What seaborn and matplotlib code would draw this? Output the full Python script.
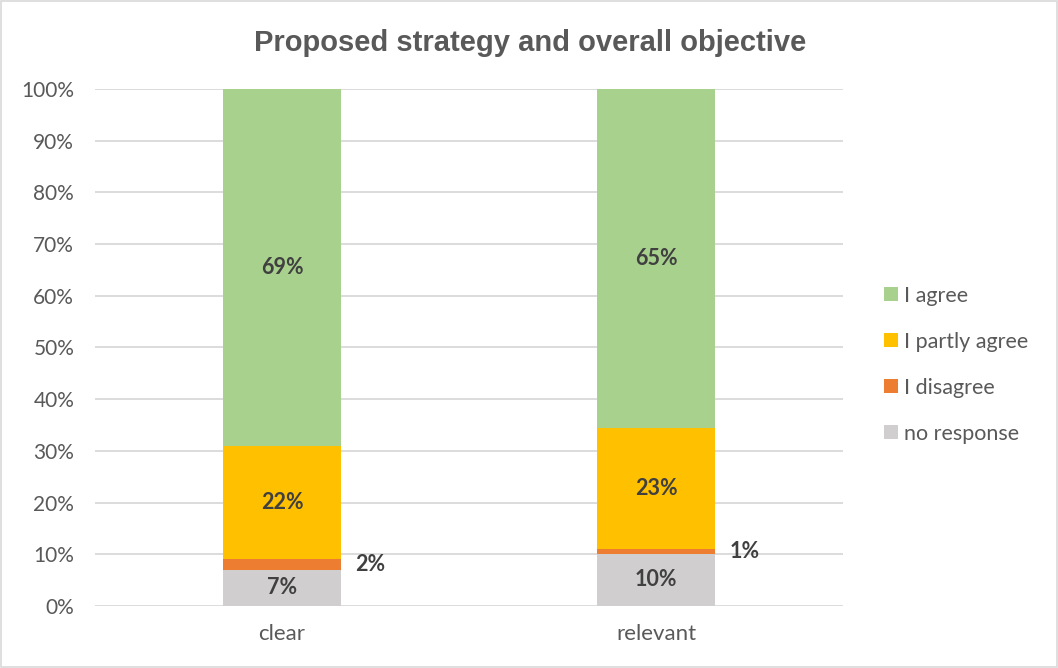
import matplotlib
matplotlib.use("Agg")
import matplotlib.pyplot as plt
from matplotlib.patches import Patch, Rectangle
from matplotlib.ticker import PercentFormatter
import numpy as np
import pandas as pd
import seaborn as sns

# Survey answers (percent of respondents), bottom segment first
categories = ["clear", "relevant"]
no_response = [7, 10]
disagree = [2, 1]
partly_agree = [22, 23]
agree = [69, 65]

series_names = ["no response", "I disagree", "I partly agree", "I agree"]
series_colors = ["#D0CECE", "#ED7D31", "#FFC000", "#A9D18E"]

sns.set_theme(style="white")
plt.rcParams["font.family"] = ["Lato", "DejaVu Sans"]

values = np.array([no_response, disagree, partly_agree, agree], dtype=float)
shares = values / values.sum(axis=0) * 100  # 100% stacked
tops = np.cumsum(shares, axis=0)
bottoms = tops - shares

fig = plt.figure(figsize=(10.58, 6.68), dpi=100)
ax = fig.add_axes([0.0898, 0.0928, 0.7070, 0.7740])

# Draw cumulative heights from the tallest down so each series sits on the one below
for i in range(len(series_names) - 1, -1, -1):
    df = pd.DataFrame({"category": categories, "top": tops[i]})
    sns.barplot(data=df, x="category", y="top", color=series_colors[i],
                width=0.313, saturation=1, ax=ax, zorder=3, linewidth=0)

# Value labels
label_color = "#404040"
for i, name in enumerate(series_names):
    for j, cat in enumerate(categories):
        mid = bottoms[i, j] + shares[i, j] / 2
        text = f"{int(values[i, j])}%"
        if name == "I disagree":
            ax.text(j + 0.196, mid, text, ha="left", va="center",
                    fontsize=15.5, fontweight="bold", color=label_color, zorder=5)
        else:
            ax.text(j, mid, text, ha="center", va="center",
                    fontsize=15.5, fontweight="bold", color=label_color, zorder=5)

ax.set_xlim(-0.5, 1.5)
ax.set_ylim(0, 100)
ax.set_yticks(np.arange(0, 101, 10))
ax.yaxis.set_major_formatter(PercentFormatter(decimals=0))
ax.grid(axis="y", color="#D9D9D9", linewidth=1.3, zorder=0)
ax.set_axisbelow(True)
for s in ax.spines.values():
    s.set_visible(False)
ax.set_xlabel("")
ax.set_ylabel("")
ax.tick_params(axis="y", length=0, pad=15, labelsize=15, labelcolor="#595959")
ax.tick_params(axis="x", length=0, pad=13, labelsize=16, labelcolor="#595959")

fig.text(0.501, 0.935, "Proposed strategy and overall objective",
         ha="center", va="center", fontsize=21, fontweight="bold",
         color="#595959", family=["Liberation Sans", "DejaVu Sans"])

handles = [Patch(facecolor=series_colors[i], edgecolor="none", label=series_names[i])
           for i in range(len(series_names) - 1, -1, -1)]
fig.legend(handles=handles, loc="center left", bbox_to_anchor=(0.827, 0.454),
           frameon=False, fontsize=15.5, labelcolor="#595959",
           handlelength=0.65, handleheight=0.65, handletextpad=0.3,
           labelspacing=1.21, borderaxespad=0)

fig.patches.append(Rectangle((0.0005, 0.0008), 0.999, 0.9984, transform=fig.transFigure,
                             fill=False, edgecolor="#D9D9D9", linewidth=1.2))

fig.savefig("out.png", dpi=100)
